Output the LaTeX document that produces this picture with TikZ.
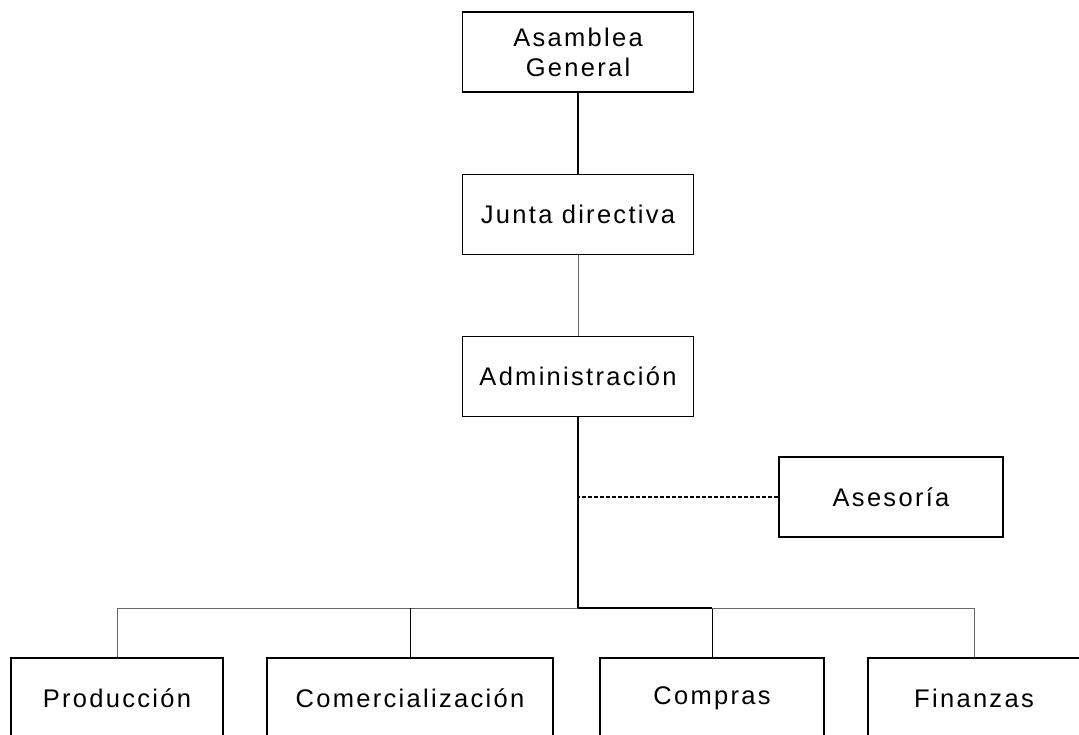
\documentclass[tikz,border=0pt]{standalone}
\usepackage{fontspec}
\setmainfont{Liberation Sans}[LetterSpace=9]
\usetikzlibrary{positioning}
\usetikzlibrary{calc}

\begin{document}
\begin{tikzpicture}[x=1pt, y=-1pt, font=\fontsize{25.5}{30}\selectfont,
            box/.style={draw, line width=1.2pt, minimum height=80pt, inner sep=0pt, align=center},
            topbox/.style={box, minimum width=231pt},
            link/.style={line width=1.2pt},
            thinlink/.style={line width=1pt, black!60},
            mainlink/.style={line width=1.8pt}]
            \useasboundingbox (0,0) rectangle (1079,735);
            \clip (0,0) rectangle (1079,735);

            \node[topbox] (asam) at (578,52) {Asamblea\\General};
            \node[topbox, below = 81pt of asam] (junta) {Junta directiva};
            \node[topbox, below = 81pt of junta] (admin) {Administración};
            \node[box, minimum width=224pt] (ases) at (891,497) {Asesoría};

            \node[box, minimum width=212pt] (prod) at (117,698) {Producción};
            \node[box, minimum width=286pt] (com) at (410,698) {Comercialización};
            \node[box, minimum width=224pt] (comp) at (712,698) {Compras};
            \node[box, minimum width=212pt] (fin) at (974,698) {Finanzas};

            \coordinate (bus) at (578,608);

            \draw[link] (asam) -- (junta);
            \draw[thinlink] (junta) -- (admin);
            \draw[mainlink] (admin) -- (bus);
            \draw[line width=1.3pt, dash pattern=on 4pt off 2pt] (ases.west) -- (ases.west -| admin.south);

            \draw[thinlink] (bus) -| (prod);
            \draw[link, line width=1pt] (bus -| com) -- (com);
            \draw[mainlink] (bus) -- (bus -| comp);
            \draw[link, line width=1pt] (bus -| comp) -- (comp);
            \draw[thinlink] (bus -| comp) -| (fin);
        \end{tikzpicture}
\end{document}
